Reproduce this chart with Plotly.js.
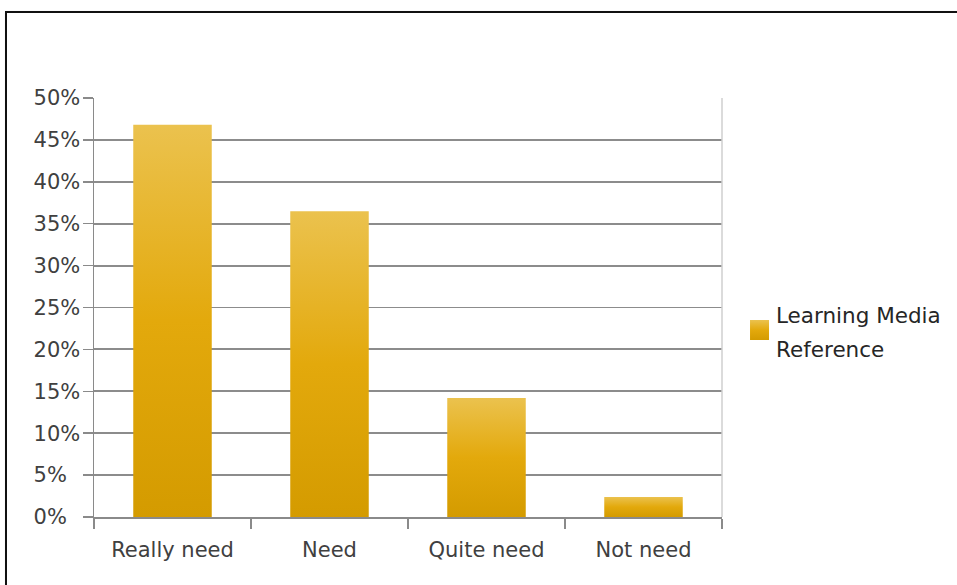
<!DOCTYPE html>
<html>
<head>
<meta charset="utf-8">
<script src="https://cdn.plot.ly/plotly-3.0.1.min.js"></script>
<style>
  html, body { margin: 0; padding: 0; background: #fff; overflow: hidden; width: 957px; height: 585px; }
  #frame { position: absolute; left: 5px; top: 11px; width: 2000px; height: 2000px; border: 2px solid #111; box-shadow: 1px 1px 2px rgba(0,0,0,0.25); }
  #chart { position: absolute; left: 0; top: 0; width: 957px; height: 585px; }
</style>
</head>
<body>
<div id="frame"></div>
<div id="chart"></div>
<script>
const categories = ["Really need", "Need", "Quite need", "Not need"];
const values = [0.468, 0.365, 0.142, 0.024];
const seriesName = "Learning Media<br>Reference";
const tickValues = [0, 0.05, 0.10, 0.15, 0.20, 0.25, 0.30, 0.35, 0.40, 0.45, 0.50];
const tickLabels = ["0%\u2007", "5%\u2007", "10%", "15%", "20%", "25%", "30%", "35%", "40%", "45%", "50%"];

const FONT = "DejaVu Sans, sans-serif";

const trace = {
  type: "bar",
  x: categories,
  y: values,
  name: seriesName,
  showlegend: true,
  marker: { color: "#E0A712", line: { width: 0 } },
  hoverinfo: "none"
};

const layout = {
  width: 957,
  height: 585,
  margin: { l: 94, r: 234, t: 98, b: 68 },
  paper_bgcolor: "rgba(0,0,0,0)",
  plot_bgcolor: "#fff",
  font: { family: FONT, size: 21, color: "#404040" },
  bargap: 0.5,
  showlegend: true,
  legend: {
    x: 1.0207, xanchor: "left",
    y: 0.446, yanchor: "middle",
    font: { family: FONT, size: 21.5, color: "#262626" },
    bgcolor: "rgba(0,0,0,0)",
    itemwidth: 30
  },
  xaxis: {
    type: "category",
    showgrid: false,
    showline: true,
    linecolor: "#8a8a8a",
    linewidth: 1.5,
    ticks: "outside",
    tickson: "boundaries",
    ticklen: 10,
    tickcolor: "#8a8a8a",
    tickwidth: 1.5,
    tickfont: { family: FONT, size: 21, color: "#404040" },
    ticklabelstandoff: 13,
    zeroline: false,
    fixedrange: true
  },
  yaxis: {
    range: [0, 0.5],
    tickvals: tickValues,
    ticktext: tickLabels,
    showgrid: true,
    gridcolor: "#8c8c8c",
    gridwidth: 1.8,
    showline: true,
    linecolor: "#8a8a8a",
    linewidth: 1.5,
    ticks: "outside",
    ticklen: 10,
    tickcolor: "#8a8a8a",
    tickwidth: 1.5,
    tickfont: { family: FONT, size: 21, color: "#404040" },
    ticklabelstandoff: -2,
    zeroline: false,
    fixedrange: true
  },
  shapes: [
    { type: "line", xref: "paper", yref: "paper", x0: 1, x1: 1, y0: 0, y1: 1,
      line: { color: "#cfcfcf", width: 1.5 } }
  ]
};

Plotly.newPlot("chart", [trace], layout, { staticPlot: true, displayModeBar: false }).then(function (gd) {
  const svg = gd.querySelector("svg.main-svg");
  const ns = "http://www.w3.org/2000/svg";
  let defs = svg.querySelector("defs");
  if (!defs) { defs = document.createElementNS(ns, "defs"); svg.insertBefore(defs, svg.firstChild); }
  const grad = document.createElementNS(ns, "linearGradient");
  grad.setAttribute("id", "barGrad");
  grad.setAttribute("x1", "0"); grad.setAttribute("y1", "0");
  grad.setAttribute("x2", "0"); grad.setAttribute("y2", "1");
  [["0%", "#EBC24E"], ["50%", "#E3A90C"], ["100%", "#D49B00"]].forEach(function (s) {
    const st = document.createElementNS(ns, "stop");
    st.setAttribute("offset", s[0]);
    st.setAttribute("stop-color", s[1]);
    grad.appendChild(st);
  });
  defs.appendChild(grad);
  gd.querySelectorAll(".barlayer path").forEach(function (p) {
    p.style.fill = "url(#barGrad)";
  });
  gd.querySelectorAll(".legend .legendpoints path").forEach(function (p) {
    p.setAttribute("d", "M-6,-10H13V10H-6Z");
    p.style.fill = "url(#barGrad)";
    p.style.strokeWidth = "0";
  });
  gd.querySelectorAll(".legend text.legendtext").forEach(function (t) {
    const lines = t.querySelectorAll("tspan.line");
    lines.forEach(function (ln, i) { if (i > 0) ln.setAttribute("dy", "1.6em"); });
    t.setAttribute("transform", "translate(0,-1.5)");
  });
});
</script>
</body>
</html>
